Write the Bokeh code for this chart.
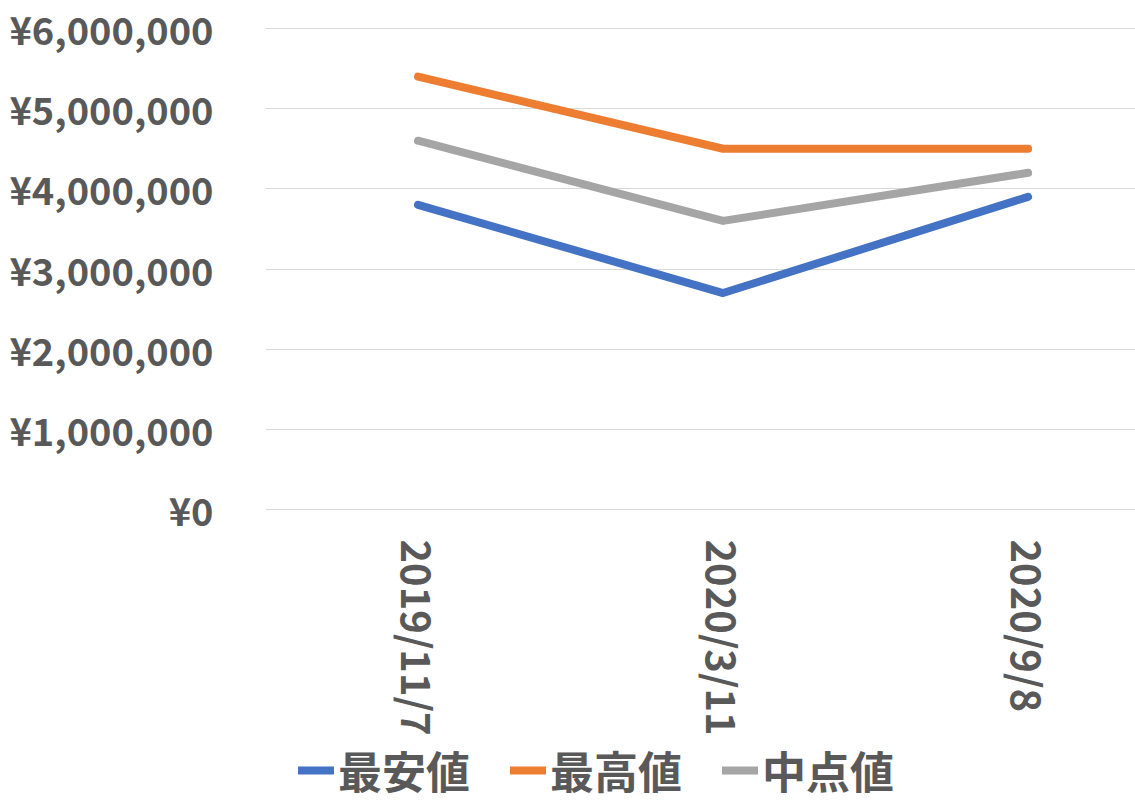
import math
from bokeh.plotting import figure
from bokeh.layouts import column
from bokeh.models import FixedTicker, Range1d, Legend, LegendItem
from bokeh.embed import file_html
from bokeh.resources import INLINE

categories = ["2019/11/7", "2020/3/11", "2020/9/8"]
series_names = ["最安値", "最高値", "中点値"]
lowest = [3800000, 2700000, 3900000]
highest = [5400000, 4500000, 4500000]
midpoint = [4600000, 3600000, 4200000]
y_ticks = [0, 1000000, 2000000, 3000000, 4000000, 5000000, 6000000]
y_tick_labels = ["¥0", "¥1,000,000", "¥2,000,000", "¥3,000,000", "¥4,000,000", "¥5,000,000", "¥6,000,000"]
colors = ["#4472C4", "#ED7D31", "#A5A5A5"]

FONT = "Noto Sans CJK JP"
TXT = "#595959"

x_idx = list(range(len(categories)))
pad = 6000000 / 481.0 * 2

LEG_H = 72
MAIN_H = 812 - LEG_H

p = figure(width=1135, height=MAIN_H, output_backend="svg", toolbar_location=None,
           x_range=Range1d(-0.5, 2.352), y_range=Range1d(-pad, 6000000 + pad),
           min_border_left=265, min_border_right=0, min_border_top=26,
           min_border_bottom=MAIN_H - 511)
p.outline_line_color = None
p.background_fill_color = "white"
p.border_fill_color = "white"

for name, vals, c in zip(series_names, [lowest, highest, midpoint], colors):
    p.line(x_idx, vals, line_color=c, line_width=8, line_cap="round", line_join="round")

# axes
p.yaxis.ticker = FixedTicker(ticks=y_ticks)
p.yaxis.major_label_overrides = {t: l for t, l in zip(y_ticks, y_tick_labels)}
p.xaxis.ticker = FixedTicker(ticks=x_idx)
p.xaxis.major_label_overrides = {i: c for i, c in zip(x_idx, categories)}
p.xaxis.major_label_orientation = -math.pi / 2

for ax in [p.xaxis[0], p.yaxis[0]]:
    ax.axis_line_color = None
    ax.major_tick_line_color = None
    ax.minor_tick_line_color = None
    ax.major_tick_out = 0
    ax.major_tick_in = 0
    ax.major_label_text_font = FONT
    ax.major_label_text_font_style = "bold"
    ax.major_label_text_color = TXT
    ax.major_label_text_font_size = "38px"
p.xaxis.major_label_text_font_size = "40px"
p.yaxis.major_label_standoff = 52
p.xaxis.major_label_standoff = 28

p.xgrid.grid_line_color = None
p.ygrid.grid_line_color = "#D9D9D9"
p.ygrid.grid_line_width = 1
p.ygrid.ticker = FixedTicker(ticks=y_ticks)

# legend figure (frame aligned with main frame by the column layout)
lf = figure(width=1135, height=LEG_H, output_backend="svg", toolbar_location=None,
            x_range=Range1d(0, 1), y_range=Range1d(0, 1),
            x_axis_location=None, y_axis_location=None,
            min_border=0, min_border_left=0, min_border_right=0,
            min_border_top=0, min_border_bottom=0)
lf.outline_line_color = None
lf.xgrid.grid_line_color = None
lf.ygrid.grid_line_color = None
leg_renderers = []
for name, c in zip(series_names, colors):
    # stand-in renderers outside the visible range, only used for legend swatches
    r = lf.line([-10, -9], [-10, -9], line_color=c, line_width=8, line_cap="round")
    leg_renderers.append(r)

legend = Legend(items=[LegendItem(label=n, renderers=[r]) for n, r in zip(series_names, leg_renderers)],
                orientation="horizontal", location=(33, 10),
                label_text_font=FONT, label_text_font_size="44px", label_text_font_style="bold",
                label_text_color=TXT, glyph_width=36, glyph_height=30, label_standoff=4,
                spacing=40, padding=0, margin=0, border_line_color=None,
                background_fill_alpha=0)
lf.add_layout(legend, "center")

layout = column(p, lf, spacing=0)
open("out.html", "w").write(file_html(layout, INLINE))
